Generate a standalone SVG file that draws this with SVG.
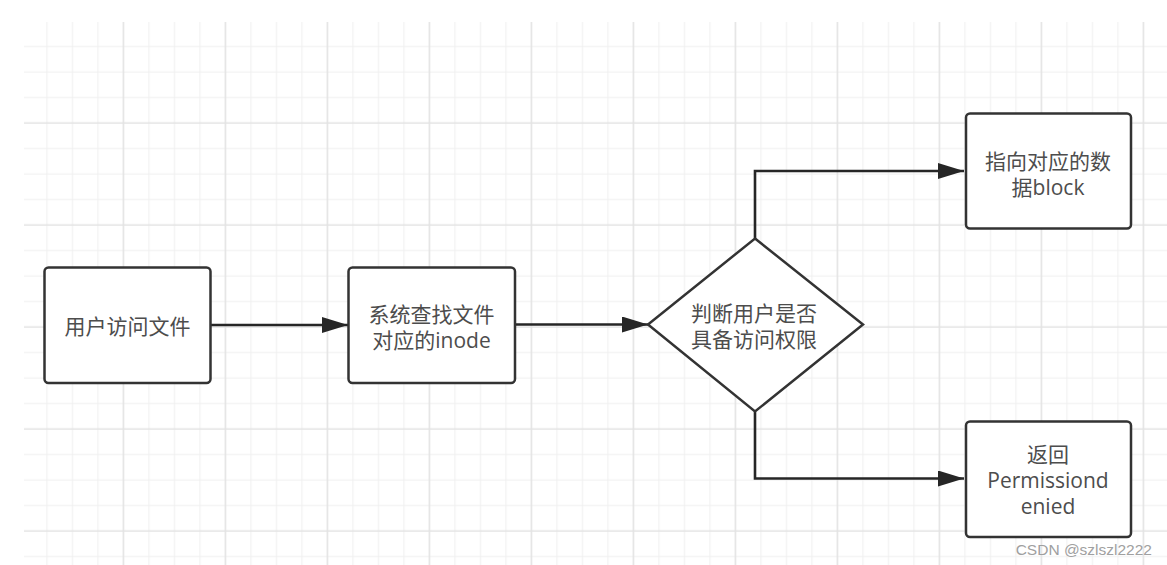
<svg xmlns="http://www.w3.org/2000/svg" width="1167" height="565" viewBox="0 0 1167 565">
<style>
.node{fill:#ffffff;stroke:#333333;stroke-width:2.5}
.lbl{font-family:"Open Sans","Noto Sans CJK SC",sans-serif;font-size:21px;fill:#4d4d4d;text-anchor:middle;dominant-baseline:central}
.edge{fill:none;stroke:#262626;stroke-width:2.6}
.minor{stroke:#efefef;stroke-width:1}
.major{stroke:#e3e3e3;stroke-width:1.6}
.wm{font-family:"Liberation Sans",Arial,sans-serif;font-size:15.5px;fill:#a0a0a0;text-anchor:end}
</style>
<defs>
<pattern id="grid" patternUnits="userSpaceOnUse" x="34.25" y="33.75" width="102" height="102">
<path class="minor" d="M12.75 0V102M38.25 0V102M63.75 0V102M0 12.75H102M0 38.25H102M0 63.75H102"/>
<path class="major" d="M89.25 0V102M0 89.25H102"/>
</pattern>
<marker id="arr" viewBox="0 0 26 16" refX="26" refY="8" markerWidth="26" markerHeight="16" markerUnits="userSpaceOnUse" orient="auto">
<path d="M0 0L26 8L0 16Z" fill="#262626"/>
</marker>
</defs>
<rect x="0" y="0" width="1167" height="565" fill="#ffffff"/>
<rect x="24" y="22" width="1143" height="543" fill="url(#grid)"/>

<g id="connectors">
<path class="edge" d="M210.5 325H348" marker-end="url(#arr)"/>
<path class="edge" d="M515 324.5H648" marker-end="url(#arr)"/>
<path class="edge" d="M755 238.5V171H964" marker-end="url(#arr)"/>
<path class="edge" d="M755 411.5V478.5H964" marker-end="url(#arr)"/>
</g>

<g id="node-user">
<rect class="node" x="44.5" y="267.5" width="166" height="115.5" rx="4"/>
<text class="lbl" x="127.5" y="326">用户访问文件</text>
</g>

<g id="node-inode">
<rect class="node" x="348.5" y="267.5" width="166.5" height="115.5" rx="4"/>
<text class="lbl" x="431.5" y="314">系统查找文件<tspan x="431.5" dy="26">对应的inode</tspan></text>
</g>

<g id="node-decision">
<polygon class="node" points="755,238.5 863,324.5 755,411.5 648,324.5"/>
<text class="lbl" x="754" y="313">判断用户是否<tspan x="754" dy="26">具备访问权限</tspan></text>
</g>

<g id="node-block">
<rect class="node" x="966" y="113.5" width="165" height="115" rx="4"/>
<text class="lbl" x="1048" y="161">指向对应的数<tspan x="1048" dy="26">据block</tspan></text>
</g>

<g id="node-denied">
<rect class="node" x="966" y="421.5" width="165" height="115.5" rx="4"/>
<text class="lbl" x="1048" y="454">返回<tspan x="1048" dy="26">Permissiond</tspan><tspan x="1048" dy="26">enied</tspan></text>
</g>

<text class="wm" x="1152" y="555">CSDN @szlszl2222</text>
</svg>
